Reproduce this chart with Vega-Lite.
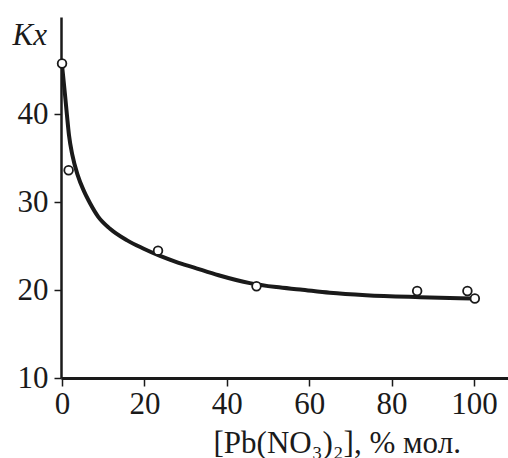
{
  "$schema": "https://vega.github.io/schema/vega-lite/v6.json",
  "width": 447,
  "height": 361,
  "autosize": {"type": "none"},
  "padding": {"left": 61, "top": 17, "right": 0, "bottom": 80},
  "background": "white",
  "config": {
    "view": {"stroke": null},
    "axis": {
      "grid": false,
      "domainColor": "#1a1a1a",
      "tickColor": "#1a1a1a",
      "labelColor": "#1a1a1a",
      "titleColor": "#1a1a1a",
      "labelFont": "Liberation Serif",
      "titleFont": "Liberation Serif",
      "labelFontSize": 31,
      "titleFontSize": 31,
      "titleFontWeight": "normal",
      "tickWidth": 1.5
    }
  },
  "datasets": {
    "curve": [
      {"x": 0, "y": 45.6},
      {"x": 0.24, "y": 44.5},
      {"x": 0.73, "y": 42.2},
      {"x": 1.2, "y": 39.9},
      {"x": 1.7, "y": 37.6},
      {"x": 2.5, "y": 35.4},
      {"x": 3.8, "y": 33.1},
      {"x": 5.3, "y": 31.3},
      {"x": 6.8, "y": 29.9},
      {"x": 8.8, "y": 28.35},
      {"x": 11.65, "y": 27.0},
      {"x": 15.7, "y": 25.7},
      {"x": 19.7, "y": 24.75},
      {"x": 23.8, "y": 23.9},
      {"x": 27.8, "y": 23.2},
      {"x": 31.9, "y": 22.6},
      {"x": 38, "y": 21.7},
      {"x": 45.6, "y": 20.8},
      {"x": 52, "y": 20.35},
      {"x": 57.8, "y": 20.07},
      {"x": 65, "y": 19.7},
      {"x": 73.8, "y": 19.42},
      {"x": 86.9, "y": 19.2},
      {"x": 99.5, "y": 19.05}
    ],
    "pts": [
      {"x": 0, "y": 45.8},
      {"x": 1.6, "y": 33.65},
      {"x": 23.3, "y": 24.5},
      {"x": 47.2, "y": 20.45},
      {"x": 86.2, "y": 19.9},
      {"x": 98.4, "y": 19.9},
      {"x": 100.2, "y": 19.05}
    ]
  },
  "encoding": {
    "x": {
      "field": "x",
      "type": "quantitative",
      "scale": {"domain": [-0.25, 108.25], "nice": false, "zero": false},
      "axis": {
        "values": [0, 20, 40, 60, 80, 100],
        "title": "[Pb(NO₃)₂], % мол.",
        "titleAlign": "left",
        "titleAnchor": "start",
        "titleBaseline": "alphabetic",
        "titleX": 152,
        "titleY": 74,
        "domainWidth": 3,
        "tickSize": 8,
        "labelPadding": 3,
        "labelFlush": false,
        "labelOverlap": false
      }
    },
    "y": {
      "field": "y",
      "type": "quantitative",
      "scale": {"domain": [10, 51.1], "nice": false, "zero": false},
      "axis": {
        "values": [10, 20, 30, 40],
        "title": "Kx",
        "titleFontStyle": "italic",
        "titleAngle": 0,
        "titleAlign": "left",
        "titleBaseline": "alphabetic",
        "titleX": -49,
        "titleY": 27,
        "domainWidth": 2.5,
        "tickSize": 7,
        "labelPadding": 6,
        "labelFlush": false,
        "labelOverlap": false
      }
    }
  },
  "layer": [
    {
      "data": {"name": "curve"},
      "mark": {"type": "line", "interpolate": "monotone", "color": "#1a1a1a", "strokeWidth": 4, "clip": true}
    },
    {
      "data": {"name": "pts"},
      "mark": {"type": "point", "shape": "circle", "filled": false, "fill": "white", "fillOpacity": 1, "stroke": "#1a1a1a", "strokeWidth": 1.8, "size": 75, "opacity": 1}
    }
  ]
}
